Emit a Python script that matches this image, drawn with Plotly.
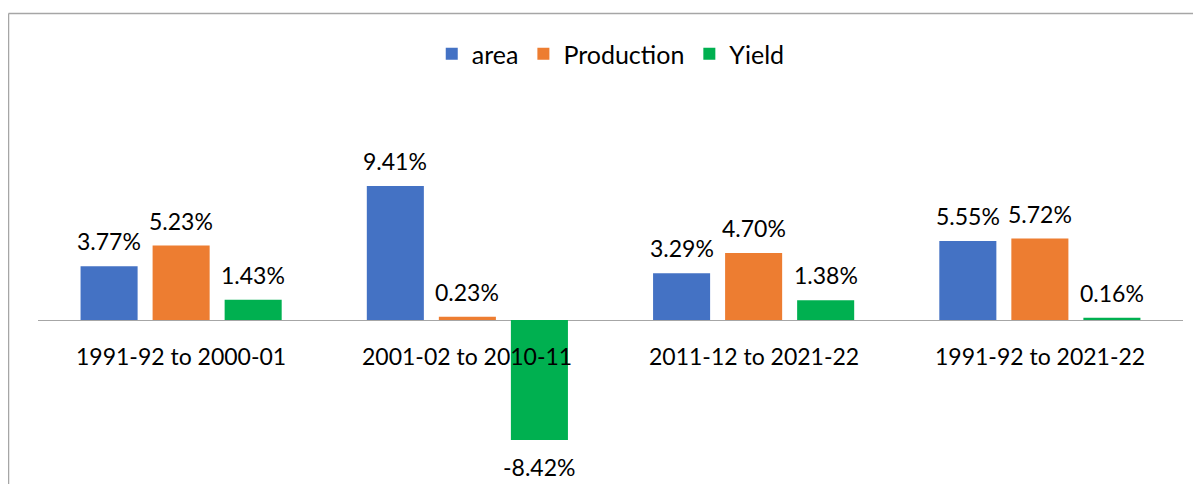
import plotly.graph_objects as go

categories = ["1991-92 to 2000-01", "2001-02 to 2010-11", "2011-12 to 2021-22", "1991-92 to 2021-22"]
area = [3.77, 9.41, 3.29, 5.55]
production = [5.23, 0.23, 4.70, 5.72]
yield_ = [1.43, -8.42, 1.38, 0.16]

series = [("area", area, "#4472C4"), ("Production", production, "#ED7D31"), ("Yield", yield_, "#00B050")]

FONT = "Lato"
FS = 23

# page body has an 8px margin; figure is laid out accordingly
W, H = 1193, 476
ML, MR, MT, MB = 30, 17.5, 92, 0
pw = W - ML - MR
ph = H - MT - MB
PX_PER_UNIT = 14.24

fig = go.Figure()
for name, vals, col in series:
    fig.add_trace(go.Bar(x=categories, y=vals, name=name, showlegend=False,
                         marker=dict(color=col, line=dict(width=0))))
# legend entries with square keys
for name, vals, col in series:
    fig.add_trace(go.Scatter(x=[None], y=[None], mode="markers", name=name,
                             marker=dict(symbol="square", size=12, color=col)))

slot_px = 72
annotations = []
for si, (name, vals, col) in enumerate(series):
    for ci, v in enumerate(vals):
        annotations.append(dict(
            x=categories[ci], y=v, xref="x", yref="y", text=f"{v:.2f}%",
            showarrow=False, xshift=(si - 1) * slot_px, yshift=25 if v >= 0 else -27,
            yanchor="middle", font=dict(family=FONT, size=FS, color="#000000")))
for c in categories:
    annotations.append(dict(x=c, y=0, xref="x", yref="y", text=c, showarrow=False,
                            yshift=-36, yanchor="middle",
                            font=dict(family=FONT, size=FS, color="#000000")))

# chart frame (top and left edges visible)
fx = (0.5 - ML) / pw
fy = 1 + (MT - 5.5) / ph
shapes = [
    dict(type="line", xref="paper", yref="paper", x0=fx, x1=1.2, y0=fy, y1=fy,
         line=dict(color="#A6A6A6", width=1.5)),
    dict(type="line", xref="paper", yref="paper", x0=fx, x1=fx, y0=fy, y1=-0.2,
         line=dict(color="#A6A6A6", width=1.5)),
]

fig.update_layout(
    width=W, height=H,
    margin=dict(l=ML, r=MR, t=MT, b=MB, pad=0),
    paper_bgcolor="white", plot_bgcolor="white",
    barmode="group", bargap=0.245, bargroupgap=0.208,
    showlegend=True,
    legend=dict(orientation="h", x=(603 - ML) / pw, xanchor="center", y=1 + (MT - 46) / ph, yanchor="middle",
                font=dict(family=FONT, size=25, color="#000000"), bgcolor="rgba(0,0,0,0)",
                traceorder="normal", itemwidth=30),
    xaxis=dict(showticklabels=False, showgrid=False, zeroline=False, showline=False, ticks=""),
    yaxis=dict(range=[-164 / PX_PER_UNIT, 220 / PX_PER_UNIT], showticklabels=False, showgrid=False,
               zeroline=True, zerolinecolor="#A6A6A6", zerolinewidth=1, showline=False, ticks=""),
    annotations=annotations,
    shapes=shapes,
    font=dict(family=FONT),
)

fig.write_html("out.html")
